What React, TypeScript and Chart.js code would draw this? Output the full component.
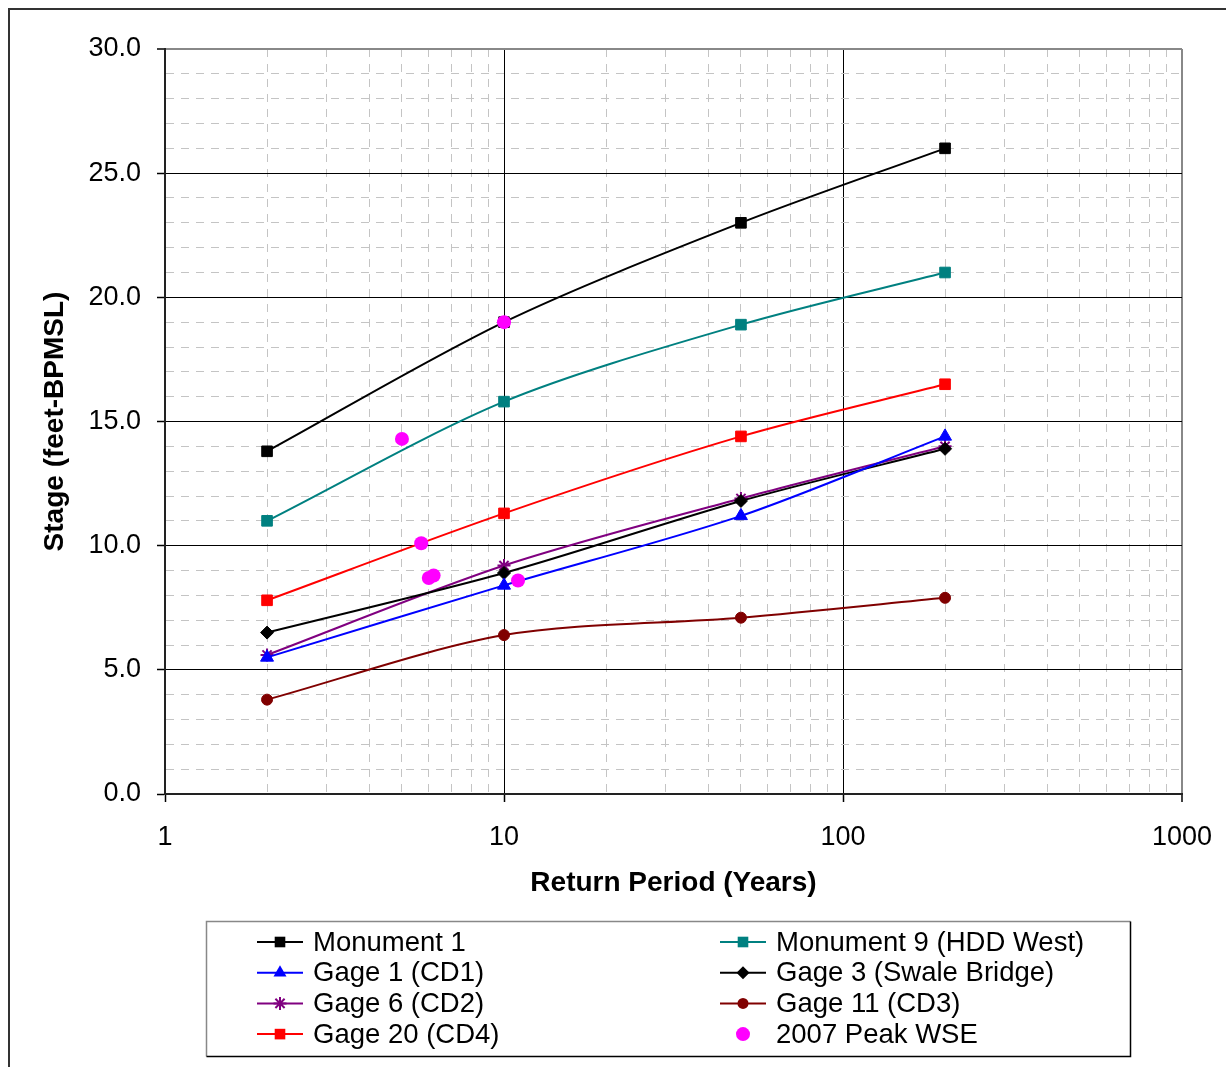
import React, { useEffect, useRef } from 'react';
import { Chart, registerables } from 'chart.js';

Chart.register(...registerables);

const returnPeriods = [2, 10, 50, 200];
const monument1 = [13.8, 19.0, 23.0, 26.0];
const monument9 = [11.0, 15.8, 18.9, 21.0];
const gage1 = [5.5, 8.4, 11.2, 14.4];
const gage3 = [6.5, 8.9, 11.8, 13.9];
const gage6 = [5.6, 9.2, 11.9, 14.0];
const gage11 = [3.8, 6.4, 7.1, 7.9];
const gage20 = [7.8, 11.3, 14.4, 16.5];
const peakX = [10, 5, 5.7, 6.0, 6.2, 11];
const peakY = [19.0, 14.3, 10.1, 8.7, 8.8, 8.6];

const xTickValues = [1, 2, 3, 4, 5, 6, 7, 8, 9, 10, 20, 30, 40, 50, 60, 70, 80, 90, 100, 200, 300, 400, 500, 600, 700, 800, 900, 1000];
const xMajorTicks = [1, 10, 100, 1000];
const yMajorStep = 5;

const FONT = "'Liberation Sans', Arial, Helvetica, sans-serif";
const W = 1226;
const H = 1067;

function isXMajor(v: number) {
  return xMajorTicks.some((m) => Math.abs(m - v) < 1e-9);
}
function isYMajor(v: number) {
  return Math.abs(v / yMajorStep - Math.round(v / yMajorStep)) < 1e-9;
}

function drawMarker(c: CanvasRenderingContext2D, style: string, x: number, y: number, r: number, color: string) {
  c.save();
  c.fillStyle = color;
  c.strokeStyle = color;
  c.lineWidth = 1;
  c.beginPath();
  if (style === 'rect') {
    const s = r * Math.SQRT1_2;
    c.rect(x - s, y - s, 2 * s, 2 * s);
    c.fill();
  } else if (style === 'triangle') {
    let rad = 0;
    c.moveTo(x + Math.sin(rad) * r, y - Math.cos(rad) * r);
    rad += (2 * Math.PI) / 3;
    c.lineTo(x + Math.sin(rad) * r, y - Math.cos(rad) * r);
    rad += (2 * Math.PI) / 3;
    c.lineTo(x + Math.sin(rad) * r, y - Math.cos(rad) * r);
    c.closePath();
    c.fill();
  } else if (style === 'rectRot') {
    c.moveTo(x, y - r);
    c.lineTo(x + r, y);
    c.lineTo(x, y + r);
    c.lineTo(x - r, y);
    c.closePath();
    c.fill();
  } else if (style === 'star') {
    c.lineWidth = 2;
    for (let k = 0; k < 4; k++) {
      const a = (k * Math.PI) / 4;
      c.moveTo(x + Math.cos(a) * r, y + Math.sin(a) * r);
      c.lineTo(x - Math.cos(a) * r, y - Math.sin(a) * r);
    }
    c.stroke();
  } else {
    c.arc(x, y, r, 0, Math.PI * 2);
    c.fill();
  }
  c.restore();
}

const framePlugin = {
  id: 'frameAndLegend',
  afterDraw(chart: any) {
    const c: CanvasRenderingContext2D = chart.ctx;
    c.save();
    // outer chart frame
    c.strokeStyle = '#333';
    c.lineWidth = 2;
    c.beginPath();
    c.moveTo(9, H);
    c.lineTo(9, 9);
    c.lineTo(W, 9);
    c.stroke();

    // legend box
    const bx = 206.5, by = 921.5, bw = 924, bh = 135;
    c.lineWidth = 1.5;
    c.strokeStyle = '#888';
    c.beginPath();
    c.moveTo(bx, by + bh);
    c.lineTo(bx, by);
    c.lineTo(bx + bw, by);
    c.stroke();
    c.strokeStyle = '#000';
    c.beginPath();
    c.moveTo(bx + bw, by);
    c.lineTo(bx + bw, by + bh);
    c.lineTo(bx, by + bh);
    c.stroke();

    c.font = `27.5px ${FONT}`;
    c.textBaseline = 'middle';
    c.textAlign = 'left';
    chart.data.datasets.forEach((ds: any, i: number) => {
      const col = i % 2;
      const row = Math.floor(i / 2);
      const x0 = col ? 720 : 257;
      const y = 942 + row * 30.7;
      if (ds.showLine !== false) {
        c.strokeStyle = ds.borderColor;
        c.lineWidth = 2;
        c.beginPath();
        c.moveTo(x0, y);
        c.lineTo(x0 + 46, y);
        c.stroke();
      }
      drawMarker(c, ds.pointStyle, x0 + 23, y, ds.pointRadius, ds.pointBackgroundColor);
      c.fillStyle = '#000';
      c.fillText(ds.label, x0 + 56, y + 1);
    });
    c.restore();
  },
};

export default function App() {
  const ref = useRef<HTMLCanvasElement>(null);

  useEffect(() => {
    const canvas = ref.current;
    if (!canvas) return;

    const series = (label: string, ys: number[], color: string, pointStyle: string, radius: number) => ({
      label,
      data: returnPeriods.map((x, i) => ({ x, y: ys[i] })),
      borderColor: color,
      backgroundColor: color,
      pointBackgroundColor: color,
      pointBorderColor: color,
      pointStyle,
      pointRadius: radius,
      pointBorderWidth: pointStyle === 'star' ? 2 : 1,
      borderWidth: 2,
      tension: 0.3,
      showLine: true,
    });

    const datasets: any[] = [
      series('Monument 1', monument1, '#000000', 'rect', 7.5),
      series('Monument 9 (HDD West)', monument9, '#008080', 'rect', 7.5),
      series('Gage 1 (CD1)', gage1, '#0000FF', 'triangle', 7.5),
      series('Gage 3 (Swale Bridge)', gage3, '#000000', 'rectRot', 6.5),
      series('Gage 6 (CD2)', gage6, '#800080', 'star', 6.5),
      series('Gage 11 (CD3)', gage11, '#800000', 'circle', 5.5),
      series('Gage 20 (CD4)', gage20, '#FF0000', 'rect', 7.5),
      {
        label: '2007 Peak WSE',
        data: peakX.map((x, i) => ({ x, y: peakY[i] })),
        borderColor: '#FF00FF',
        backgroundColor: '#FF00FF',
        pointBackgroundColor: '#FF00FF',
        pointBorderColor: '#FF00FF',
        pointStyle: 'circle',
        pointRadius: 7,
        pointBorderWidth: 0,
        showLine: false,
        order: -1,
      },
    ];

    const chart = new Chart(canvas, {
      type: 'line',
      data: { datasets },
      plugins: [framePlugin],
      options: {
        animation: false,
        responsive: false,
        maintainAspectRatio: false,
        layout: { padding: { left: 30, right: 44, top: 49, bottom: 163 } },
        plugins: { legend: { display: false }, tooltip: { enabled: false }, title: { display: false } },
        scales: {
          x: {
            type: 'logarithmic',
            min: 1,
            max: 1000,
            afterBuildTicks: (scale: any) => {
              scale.ticks = xTickValues.map((v) => ({ value: v }));
            },
            afterFit: (scale: any) => {
              scale.height = 110;
              scale.paddingLeft = 0;
              scale.paddingRight = 0;
            },
            ticks: {
              autoSkip: false,
              maxRotation: 0,
              padding: 19,
              color: '#000',
              font: { family: FONT, size: 27 },
              callback: (v: any) => (isXMajor(Number(v)) ? String(Number(v)) : ''),
            },
            grid: {
              drawTicks: true,
              tickLength: 8,
              color: (ctx: any) => {
                const v = ctx.tick ? ctx.tick.value : 1;
                if (v === 1000) return '#888';
                return isXMajor(v) ? '#000' : '#c4c4c4';
              },
              lineWidth: (ctx: any) => {
                const v = ctx.tick ? ctx.tick.value : 1;
                if (v === 1000) return 2;
                return 1;
              },
              tickColor: (ctx: any) => {
                const v = ctx.tick ? ctx.tick.value : 1;
                return isXMajor(v) ? '#000' : 'rgba(0,0,0,0)';
              },
              tickWidth: 1.5,
            },
            border: {
              display: true,
              color: '#222',
              width: 2,
              dash: (ctx: any) => (ctx.tick && !isXMajor(ctx.tick.value) ? [8, 7] : []),
            },
            title: {
              display: true,
              text: 'Return Period (Years)',
              color: '#000',
              font: { family: FONT, size: 28, weight: 'bold' },
              padding: { top: 4, bottom: 4 },
            },
          },
          y: {
            type: 'linear',
            min: 0,
            max: 30,
            afterFit: (scale: any) => {
              scale.width = 135;
              scale.paddingTop = 0;
              scale.paddingBottom = 0;
            },
            ticks: {
              stepSize: 1,
              autoSkip: false,
              padding: 16,
              color: '#000',
              font: { family: FONT, size: 27 },
              callback: (v: any) => (isYMajor(Number(v)) ? Number(v).toFixed(1) : ''),
            },
            grid: {
              drawTicks: true,
              tickLength: 8,
              color: (ctx: any) => {
                const v = ctx.tick ? ctx.tick.value : 0;
                if (v === 30) return '#888';
                return isYMajor(v) ? '#000' : '#c4c4c4';
              },
              lineWidth: (ctx: any) => {
                const v = ctx.tick ? ctx.tick.value : 0;
                if (v === 30) return 2;
                return 1;
              },
              tickColor: (ctx: any) => {
                const v = ctx.tick ? ctx.tick.value : 0;
                return isYMajor(v) ? '#000' : 'rgba(0,0,0,0)';
              },
              tickWidth: 1.5,
            },
            border: {
              display: true,
              color: '#222',
              width: 2,
              dash: (ctx: any) => (ctx.tick && !isYMajor(ctx.tick.value) ? [8, 7] : []),
            },
            title: {
              display: true,
              text: 'Stage (feet-BPMSL)',
              color: '#000',
              font: { family: FONT, size: 28, weight: 'bold' },
              padding: { top: 8, bottom: 8 },
            },
          },
        },
      } as any,
    });

    return () => {
      chart.destroy();
    };
  }, []);

  return (
    <div style={{ position: 'fixed', left: 0, top: 0, width: W, height: H, background: '#fff' }}>
      <canvas ref={ref} width={W} height={H} style={{ display: 'block', width: W, height: H }} />
    </div>
  );
}
